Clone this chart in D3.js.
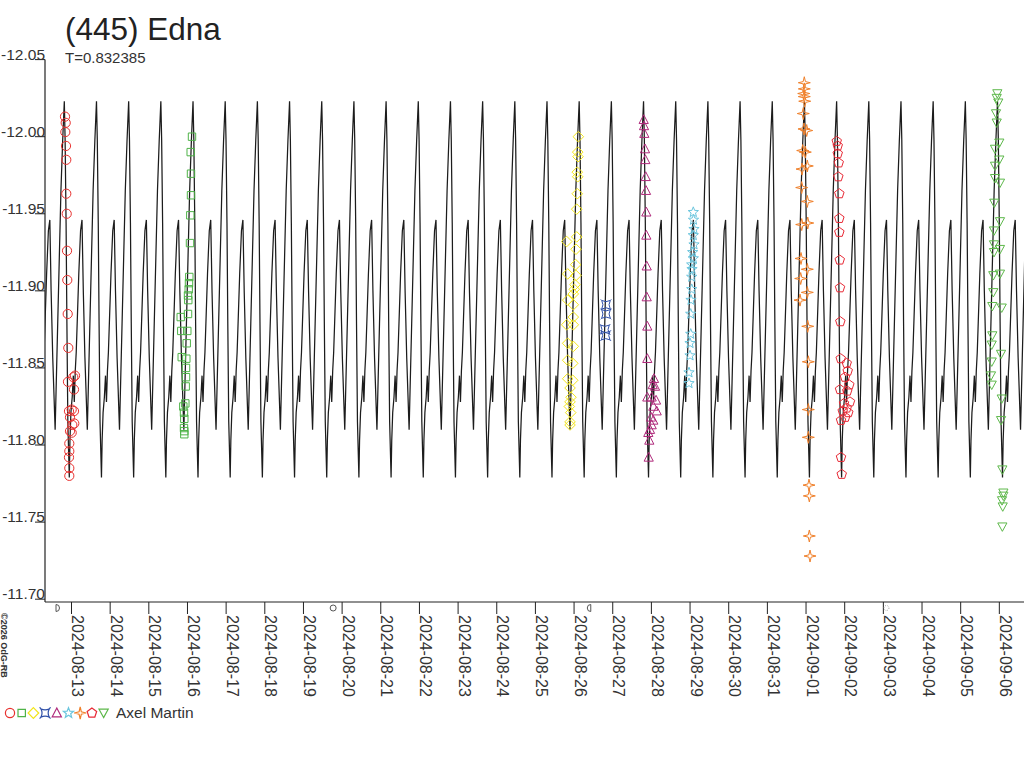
<!DOCTYPE html>
<html><head><meta charset="utf-8">
<script src="https://cdn.jsdelivr.net/npm/d3@7"></script>
<style>body{margin:0;background:#fff}svg{display:block}</style>
</head><body>
<svg id="c" width="1024" height="768"></svg>
<script>
// ---------------- data ----------------
const TITLE = "(445) Edna";
const PERIOD = 0.832385;                 // days
const BASE = Date.UTC(2024, 7, 13);      // 2024-08-13 00:00 UTC
const EPOCH = -0.186;                    // primary maximum, days from BASE
const xDomainDays = [-0.6855, 24.638];
const yDomain = [-12.05, -11.70];
const yTicks = [-12.05, -12.00, -11.95, -11.90, -11.85, -11.80, -11.75, -11.70];
const observer = "Axel Martin";

// one cycle of the model light curve (phase, magnitude)
const lcPhase = [0, 0.025, 0.055, 0.08, 0.11, 0.155, 0.175, 0.205, 0.245, 0.28, 0.31, 0.34, 0.37, 0.40, 0.45, 0.505, 0.55, 0.59, 0.64, 0.715, 0.745, 0.795, 0.845, 0.895, 0.95];
const lcMag   = [-12.023, -11.998, -11.944, -11.880, -11.815, -11.779, -11.803, -11.821, -11.831, -11.845, -11.828, -11.848, -11.860, -11.879, -11.911, -11.939, -11.946, -11.900, -11.857, -11.810, -11.836, -11.879, -11.922, -11.965, -11.998];

// sessions: time in days from 2024-08-13 00:00 UTC, reduced magnitude
const redCircleT = [-0.168,-0.150,-0.160,-0.142,-0.135,-0.135,-0.124,-0.116,-0.109,-0.098,-0.083,-0.091,0.091,0.047,0.065,-0.065,0.005,0.065,-0.039,0.072,0.021,-0.039,0.005,-0.057,-0.057,-0.065,-0.057,-0.057];
const redCircleM = [-12.013,-12.009,-12.003,-11.994,-11.985,-11.963,-11.950,-11.926,-11.907,-11.885,-11.863,-11.841,-11.845,-11.844,-11.836,-11.822,-11.823,-11.822,-11.818,-11.814,-11.813,-11.809,-11.808,-11.801,-11.796,-11.792,-11.785,-11.780];

const greenSquareT = [3.117,3.083,3.091,3.091,3.073,3.065,3.047,3.039,3.032,3.014,3.021,3.014,2.825,2.995,2.840,2.980,2.970,2.851,2.962,2.962,2.954,2.944,2.892,2.910,2.918,2.910,2.918,2.918];
const greenSquareM = [-12.000,-11.990,-11.976,-11.962,-11.949,-11.931,-11.909,-11.905,-11.901,-11.897,-11.894,-11.885,-11.883,-11.874,-11.874,-11.866,-11.856,-11.857,-11.850,-11.844,-11.838,-11.827,-11.825,-11.821,-11.817,-11.811,-11.809,-11.807];

const yellowDiamondT = [13.110,13.102,13.094,13.083,13.094,13.083,13.068,12.809,13.068,13.050,13.042,12.835,13.050,13.024,13.006,12.980,12.835,12.980,12.980,12.809,12.980,12.835,12.980,12.835,12.965,12.835,12.965,12.895,12.920,12.895,12.877,12.913,12.895,12.895];
const yellowDiamondM = [-12.000,-11.987,-11.990,-11.977,-11.974,-11.963,-11.953,-11.932,-11.935,-11.927,-11.917,-11.911,-11.910,-11.904,-11.901,-11.898,-11.894,-11.891,-11.883,-11.878,-11.878,-11.866,-11.864,-11.855,-11.853,-11.843,-11.842,-11.837,-11.831,-11.828,-11.825,-11.821,-11.815,-11.813];

const blueCrossT = [13.826,13.826,13.800,13.818];
const blueCrossM = [-11.891,-11.885,-11.875,-11.871];

const magentaTriT = [14.801,14.809,14.817,14.835,14.843,14.853,14.861,14.869,14.869,14.879,14.879,14.894,14.894,15.068,15.034,15.094,14.894,15.008,15.120,15.050,15.137,14.990,15.050,15.008,14.964,14.920,14.946,14.930];
const magentaTriM = [-12.011,-12.007,-12.002,-11.992,-11.985,-11.974,-11.965,-11.951,-11.936,-11.916,-11.896,-11.877,-11.856,-11.843,-11.839,-11.838,-11.831,-11.831,-11.829,-11.825,-11.822,-11.818,-11.816,-11.813,-11.810,-11.808,-11.803,-11.792];

const cyanStarT = [16.084,16.089,16.102,16.084,16.102,16.068,16.084,16.043,16.051,16.043,16.043,16.025,16.017,16.017,15.999,15.999,15.973,15.973];
const cyanStarM = [-11.951,-11.946,-11.940,-11.936,-11.930,-11.925,-11.921,-11.917,-11.914,-11.909,-11.901,-11.894,-11.885,-11.872,-11.866,-11.858,-11.847,-11.840];

const orangeSparkT = [18.955,18.955,18.940,18.955,18.966,18.929,18.947,19.017,18.914,18.981,18.896,19.033,18.888,19.033,18.888,19.044,18.870,19.033,18.862,19.033,18.844,19.044,19.059,19.059,19.059,19.077,19.085,19.085,19.103];
const orangeSparkM = [-12.035,-12.031,-12.028,-12.026,-12.023,-12.015,-12.005,-12.004,-11.991,-11.990,-11.979,-11.981,-11.967,-11.958,-11.943,-11.944,-11.921,-11.914,-11.908,-11.899,-11.894,-11.877,-11.854,-11.823,-11.805,-11.774,-11.767,-11.741,-11.728];

const redPentT = [19.794,19.820,19.820,19.846,19.835,19.861,19.861,19.861,19.872,19.879,19.887,19.897,20.052,20.078,20.008,20.119,19.879,20.067,20.137,19.982,20.052,19.949,20.093,20.015,19.905,19.905,19.923];
const redPentM = [-11.997,-11.994,-11.989,-11.983,-11.974,-11.963,-11.947,-11.938,-11.920,-11.902,-11.880,-11.856,-11.853,-11.848,-11.844,-11.839,-11.836,-11.835,-11.828,-11.827,-11.824,-11.822,-11.821,-11.818,-11.816,-11.792,-11.781];

const greenDownT = [23.948,23.932,23.973,23.914,23.932,23.999,23.888,23.999,23.888,23.888,24.017,23.870,24.017,23.862,23.862,24.017,23.862,24.017,23.844,23.844,23.818,24.062,23.818,23.803,24.044,23.803,23.785,23.803,24.062,24.044,24.078,24.104,24.104,24.070,24.088,24.078];
const greenDownM = [-12.028,-12.025,-12.022,-12.015,-12.009,-11.996,-11.992,-11.985,-11.981,-11.973,-11.970,-11.957,-11.945,-11.939,-11.930,-11.927,-11.925,-11.911,-11.910,-11.899,-11.890,-11.889,-11.871,-11.865,-11.859,-11.854,-11.845,-11.839,-11.830,-11.816,-11.784,-11.769,-11.767,-11.764,-11.760,-11.747];

// moon phases
const moonDates = ["2024-08-12T15:19Z", "2024-08-19T18:26Z", "2024-08-26T09:26Z", "2024-09-03T01:55Z"];
const moonKinds = ["firstQuarter", "full", "lastQuarter", "new"];

// ---------------- drawing ----------------
const FONT = "'Liberation Sans', Arial, Helvetica, sans-serif";
const svg = d3.select("#c");
const DAY = 864e5;
const toDate = d => new Date(BASE + d * DAY);

const x = d3.scaleUtc().domain(xDomainDays.map(toDate)).range([45, 1024]);
const y = d3.scaleLinear().domain(yDomain).range([59.6, 599.2]);
const axisY = 602;

svg.append("defs").append("clipPath").attr("id", "plot")
  .append("rect").attr("x", 45).attr("y", 0).attr("width", 979).attr("height", axisY);

// model curve tiled over the period
const pts = [];
const k0 = Math.floor((xDomainDays[0] - EPOCH) / PERIOD) - 1;
const k1 = Math.ceil((xDomainDays[1] - EPOCH) / PERIOD) + 1;
for (let k = k0; k <= k1; k++) {
  lcPhase.forEach((p, i) => pts.push([EPOCH + (k + p) * PERIOD, lcMag[i]]));
}
svg.append("path")
  .attr("clip-path", "url(#plot)")
  .attr("d", d3.line().x(d => x(toDate(d[0]))).y(d => y(d[1]))(pts))
  .attr("fill", "none").attr("stroke", "#1c1c1c").attr("stroke-width", 1.25);

// marker shapes
function poly(n, r, rot) {
  const a = [];
  for (let i = 0; i < n; i++) { const t = rot + i * 2 * Math.PI / n; a.push([r * Math.sin(t), -r * Math.cos(t)]); }
  return "M" + a.map(p => p[0].toFixed(2) + "," + p[1].toFixed(2)).join("L") + "Z";
}
function star(n, ro, ri, rot) {
  const a = [];
  for (let i = 0; i < 2 * n; i++) { const r = i % 2 ? ri : ro; const t = rot + i * Math.PI / n; a.push([r * Math.sin(t), -r * Math.cos(t)]); }
  return "M" + a.map(p => p[0].toFixed(2) + "," + p[1].toFixed(2)).join("L") + "Z";
}
const shapes = {
  circle: d3.symbol(d3.symbolCircle, Math.PI * 4.6 * 4.6)(),
  square: "M-3.7,-3.7H3.7V3.7H-3.7Z",
  diamond: "M0,-5.3L5.3,0L0,5.3L-5.3,0Z",
  cross: "M-4.3,-4.3Q0,-1.8 4.3,-4.3Q1.8,0 4.3,4.3Q0,1.8 -4.3,4.3Q-1.8,0 -4.3,-4.3Z M-4.3,-4.3L-5.3,-5.3M4.3,-4.3L5.3,-5.3M4.3,4.3L5.3,5.3M-4.3,4.3L-5.3,5.3",
  triangle: "M0,-5L4.6,3.8L-4.6,3.8Z",
  star: star(5, 5.4, 2.3, 0),
  spark: star(4, 6, 1.6, 0),
  pentagon: poly(5, 5, 0),
  down: "M0,4.6L4.6,-3.8L-4.6,-3.8Z"
};

const sessions = [
  {t: redCircleT, m: redCircleM, shape: "circle", color: "#e8302e"},
  {t: greenSquareT, m: greenSquareM, shape: "square", color: "#4fb348"},
  {t: yellowDiamondT, m: yellowDiamondM, shape: "diamond", color: "#f2e51a"},
  {t: blueCrossT, m: blueCrossM, shape: "cross", color: "#2f4fa8"},
  {t: magentaTriT, m: magentaTriM, shape: "triangle", color: "#b02a7c"},
  {t: cyanStarT, m: cyanStarM, shape: "star", color: "#6cc6de"},
  {t: orangeSparkT, m: orangeSparkM, shape: "spark", color: "#f0802a"},
  {t: redPentT, m: redPentM, shape: "pentagon", color: "#e82a36"},
  {t: greenDownT, m: greenDownM, shape: "down", color: "#5db84a"}
];

const gMarks = svg.append("g").attr("clip-path", "url(#plot)");
sessions.forEach(s => {
  gMarks.append("g").selectAll("path").data(s.t.map((t, i) => [t, s.m[i]])).join("path")
    .attr("d", shapes[s.shape])
    .attr("transform", d => `translate(${x(toDate(d[0])).toFixed(2)},${y(d[1]).toFixed(2)})`)
    .attr("fill", "none").attr("stroke", s.color).attr("stroke-width", 1);
});

// y axis
svg.append("line").attr("x1", 45).attr("x2", 45).attr("y1", y(yDomain[0])).attr("y2", axisY)
  .attr("stroke", "#222").attr("stroke-width", 1.2);
const gy = svg.append("g");
yTicks.forEach(v => {
  gy.append("line").attr("x1", 35).attr("x2", 45).attr("y1", y(v)).attr("y2", y(v)).attr("stroke", "#222");
  gy.append("text").attr("x", 45).attr("y", y(v)).attr("text-anchor", "end")
    .attr("font-family", FONT).attr("font-size", 15.5).attr("fill", "#333")
    .text(d3.format(".2f")(v).replace("−", "-"));
});

// x axis
svg.append("line").attr("x1", 45).attr("x2", 1024).attr("y1", axisY).attr("y2", axisY)
  .attr("stroke", "#222").attr("stroke-width", 1.2);
const days = d3.utcDay.range(d3.utcDay.ceil(x.domain()[0]), x.domain()[1]);
const fmt = d3.utcFormat("%Y-%m-%d");
const gx = svg.append("g");
days.forEach(d => {
  const px = x(d);
  gx.append("line").attr("x1", px).attr("x2", px).attr("y1", axisY).attr("y2", axisY + 12).attr("stroke", "#222");
  gx.append("text").attr("transform", `translate(${px + 0.5},${axisY + 13}) rotate(90)`)
    .attr("font-family", FONT).attr("font-size", 16).attr("fill", "#333").text(fmt(d));
});

// moon phase symbols
const gm = svg.append("g").attr("fill", "none").attr("stroke", "#555").attr("stroke-width", 1);
moonDates.forEach((ds, i) => {
  const px = x(new Date(ds)), py = 608;
  const k = moonKinds[i];
  if (k === "firstQuarter") gm.append("path").attr("d", `M${px - 1.5},${py - 3.5}A3.5,3.5 0 0 1 ${px - 1.5},${py + 3.5}Z`);
  else if (k === "lastQuarter") gm.append("path").attr("d", `M${px + 1.5},${py - 3.5}A3.5,3.5 0 0 0 ${px + 1.5},${py + 3.5}Z`);
  else if (k === "full") gm.append("circle").attr("cx", px).attr("cy", py).attr("r", 3);
  else gm.append("circle").attr("cx", px).attr("cy", py).attr("r", 2.5).attr("stroke", "#999").attr("stroke-dasharray", "1,1.5");
});

// title
svg.append("text").attr("x", 65).attr("y", 40).attr("font-family", FONT).attr("font-size", 31.5)
  .attr("fill", "#222").text(TITLE);
svg.append("text").attr("x", 65).attr("y", 63).attr("font-family", FONT).attr("font-size", 15)
  .attr("fill", "#333").text("T=" + PERIOD);

// copyright
svg.append("text").attr("transform", "translate(1,613) rotate(90)").attr("font-family", FONT)
  .attr("font-size", 9).attr("font-weight", "bold").attr("fill", "#333").text("\u00a92026 OdG-RB");

// legend
const gl = svg.append("g");
sessions.forEach((s, i) => {
  gl.append("path").attr("d", shapes[s.shape]).attr("transform", `translate(${10 + i * 11.7},713)`)
    .attr("fill", "none").attr("stroke", s.color).attr("stroke-width", 1.2);
});
gl.append("text").attr("x", 116).attr("y", 718).attr("font-family", FONT).attr("font-size", 15.5)
  .attr("fill", "#333").text(observer);
</script>
</body></html>
